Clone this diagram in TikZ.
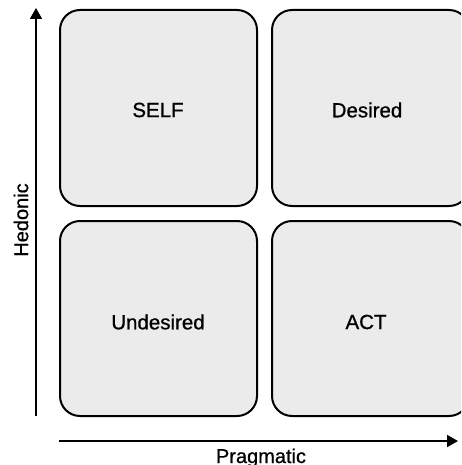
\documentclass[tikz,border=0pt]{standalone}
\usepackage{fontspec}
\setmainfont{Liberation Sans}[FakeBold=0.8]
\usetikzlibrary{arrows.meta}
\definecolor{cellfill}{HTML}{EBEBEB}
\begin{document}
\begin{tikzpicture}[x=1pt,y=-1pt,
  cell/.style={draw=black,line width=2pt,fill=cellfill,rounded corners=20pt},
  celltext/.style={font=\fontsize{20.5}{24}\selectfont,inner sep=0pt},
  axis/.style={line width=1.8pt,-{Triangle[length=11pt,width=12pt]}},
  axislabel/.style={font=\fontsize{20}{24}\selectfont,inner sep=0pt}]
\useasboundingbox (0,0) rectangle (461,465);
\clip (0,0) rectangle (461,465);
% quadrants
\draw[cell] (60,10) rectangle (257,206);
\draw[cell] (272,10) rectangle (469,206);
\draw[cell] (60,221) rectangle (257,416);
\draw[cell] (272,221) rectangle (469,416);
\node[celltext] (self) at (158,110) {SELF};
\node[celltext] (desired) at (367,110) {Desired};
\node[celltext] (undesired) at (158,322) {Undesired};
\node[celltext] (act) at (366,322) {ACT};
% axes
\coordinate (vstart) at (36,416);
\coordinate (vend) at (36,8);
\coordinate (hstart) at (59,441);
\coordinate (hend) at (458,441);
\draw[axis] (vstart) -- (vend);
\draw[axis] (hstart) -- (hend);
\node[axislabel,rotate=90] (hed) at (21,220) {Hedonic};
\node[axislabel,anchor=base] (prag) at (261,463) {Pragmatic};
\end{tikzpicture}
\end{document}
